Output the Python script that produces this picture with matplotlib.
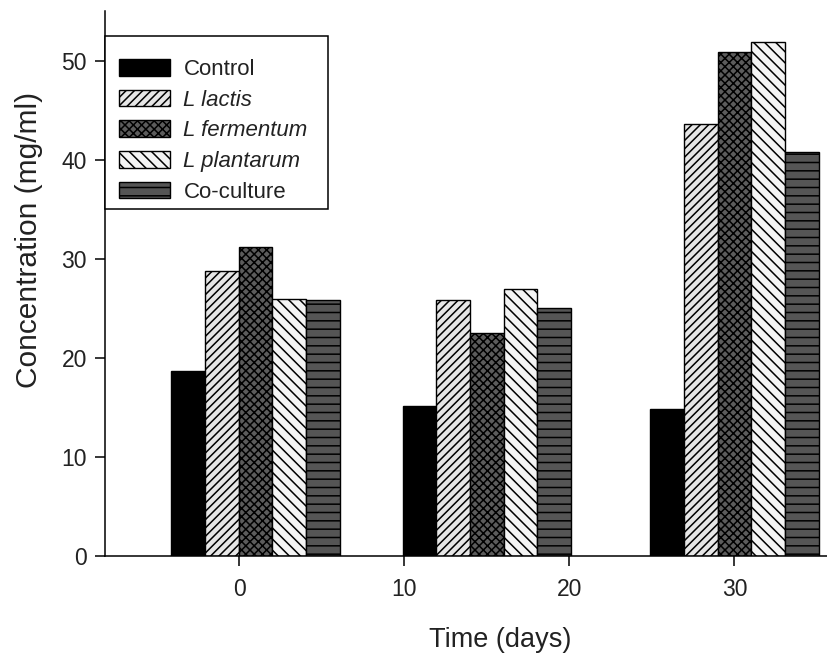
import matplotlib
matplotlib.use("Agg")
import matplotlib.pyplot as plt
from matplotlib.patches import Rectangle

# ---- data ----
group_x = [1, 15, 30]                     # positions of the bar groups on the Time axis
series_names = ["Control", "L lactis", "L fermentum", "L plantarum", "Co-culture"]
control = [18.7, 15.2, 14.85]
l_lactis = [28.8, 25.85, 43.65]
l_fermentum = [31.2, 22.5, 50.95]
l_plantarum = [26.0, 27.0, 51.95]
co_culture = [25.85, 25.1, 40.85]
x_ticks = [0, 10, 20, 30]
y_ticks = [0, 10, 20, 30, 40, 50]

values = [control, l_lactis, l_fermentum, l_plantarum, co_culture]
faces = ["#000000", "#e6e6e6", "#5c5c5c", "#f4f4f4", "#555555"]
hatches = [None, "////", "xxxx", "\\\\\\", "--"]

plt.rcParams["font.family"] = ["Liberation Sans", "DejaVu Sans"]
plt.rcParams["hatch.linewidth"] = 1.1

fig = plt.figure(figsize=(8.27, 6.58), dpi=100)
ax = fig.add_axes([105 / 827, 1 - 556 / 658, 722 / 827, 545 / 658])

w = 2.04
for i, (name, vals) in enumerate(zip(series_names, values)):
    xs = [g + (i - 2) * w for g in group_x]
    ax.bar(xs, vals, width=w, color=faces[i], edgecolor="black",
           linewidth=1.0, hatch=hatches[i], label=name, zorder=2)

ax.set_xlim(-8.12, 35.61)
ax.set_ylim(0, 55.1)
ax.set_xticks(x_ticks)
ax.set_yticks(y_ticks)
ax.spines["top"].set_visible(False)
ax.spines["right"].set_visible(False)
for s in ("left", "bottom"):
    ax.spines[s].set_linewidth(1.1)
ax.tick_params(axis="both", direction="out", length=7, width=1.1,
               labelsize=16.5, colors="black")
ax.tick_params(axis="y", pad=6)
ax.tick_params(axis="x", pad=9)
for lab in ax.get_xticklabels() + ax.get_yticklabels():
    lab.set_color("#222222")

ax.set_xlabel("Time (days)", fontsize=19.5, color="#222222", va="center")
ax.xaxis.set_label_coords((500 - 105) / 722, -(640 - 556) / 545)
ax.set_ylabel("Concentration (mg/ml)", fontsize=21.5, color="#222222",
              va="center", ha="center")
ax.yaxis.set_label_coords(-(105 - 29) / 722, (556 - 240) / 545)

# legend frame (box) drawn in axes coordinates
frame = Rectangle((0, (556 - 209) / 545), (328 - 105) / 722, (209 - 35.7) / 545,
                  transform=ax.transAxes, facecolor="white", edgecolor="black",
                  linewidth=1.1, zorder=5, clip_on=False)
ax.add_patch(frame)

leg = ax.legend(loc="upper left",
                bbox_to_anchor=((119 - 105) / 722, (556 - 59) / 545),
                borderaxespad=0, borderpad=0, fontsize=16, frameon=False,
                handlelength=2.3, handleheight=0.78, handletextpad=0.6,
                labelspacing=0.43)
leg.set_zorder(6)
for t in leg.get_texts():
    t.set_color("#222222")
for t in leg.get_texts()[1:4]:
    t.set_style("italic")

fig.savefig("out.png", dpi=100)
